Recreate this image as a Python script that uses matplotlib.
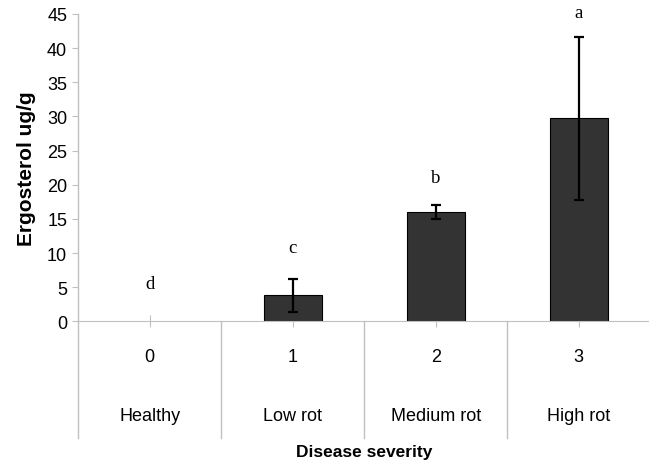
import matplotlib.pyplot as plt
from matplotlib.transforms import blended_transform_factory

plt.rcParams['font.family'] = ['Liberation Sans', 'DejaVu Sans']

# data
levels = ['0', '1', '2', '3']
names = ['Healthy', 'Low rot', 'Medium rot', 'High rot']
ergosterol = [0, 3.8, 16.0, 29.7]
err = [0, 2.4, 1.05, 12.0]
letters = ['d', 'c', 'b', 'a']
letter_y = [5.5, 10.8, 21.0, 45.2]

grey = '#c0c0c0'

fig = plt.figure(figsize=(6.49, 4.64), dpi=100)
ax = fig.add_axes([0.1206, 0.3054, 0.8810, 0.6623])

x = list(range(len(levels)))
ax.bar(x[1:], ergosterol[1:], width=0.405, color='#333333', edgecolor='black', linewidth=0.8, zorder=2)
ax.errorbar(x[1:], ergosterol[1:], yerr=err[1:], fmt='none', ecolor='black',
            elinewidth=1.6, capsize=3.5, capthick=1.6, zorder=3)

for xi, lab, ly in zip(x, letters, letter_y):
    ax.text(xi, ly, lab, ha='center', va='center', fontsize=13.5,
            family=['Liberation Serif', 'DejaVu Serif'], clip_on=False)

ax.set_xlim(-0.5, 3.5)
ax.set_ylim(0, 45)
ax.set_yticks(range(0, 46, 5))
ax.tick_params(axis='y', length=4, color=grey, labelsize=13, pad=4)
ax.set_xticks(x)
ax.set_xticklabels([])
ax.tick_params(axis='x', direction='inout', length=8, color=grey)

for s in ['top', 'right']:
    ax.spines[s].set_visible(False)
ax.spines['bottom'].set_color(grey)
ax.spines['left'].set_visible(False)

# category separators below the axis
tr = blended_transform_factory(ax.transData, ax.transAxes)
for sx in [-0.5, 0.5, 1.5, 2.5, 3.5]:
    ax.plot([sx, sx], [1.0 if sx == -0.5 else 0, -0.38], color=grey, linewidth=1,
            transform=tr, clip_on=False, zorder=1)

for xi, lv, nm in zip(x, levels, names):
    ax.text(xi, -0.115, lv, ha='center', va='center', fontsize=13, transform=tr)
    ax.text(xi, -0.305, nm, ha='center', va='center', fontsize=13, transform=tr)

ax.text(0.5, -0.425, 'Disease severity', ha='center', va='center', fontsize=12.5,
        fontweight='bold', transform=ax.transAxes)
ax.set_ylabel('Ergosterol ug/g', fontsize=15, fontweight='bold', labelpad=8)

fig.savefig('out.png', dpi=100)
